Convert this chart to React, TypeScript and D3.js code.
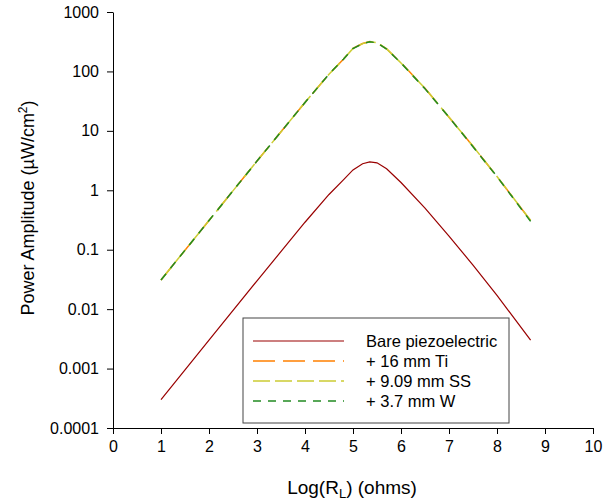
import React, { useRef, useEffect } from 'react';
import * as d3 from 'd3';

// log10 of load resistance
const logR = [1, 2, 3, 4, 4.5, 4.8, 5.0, 5.2, 5.35, 5.5, 5.7, 6.0, 6.5, 7, 7.5, 8, 8.7];

// power amplitude, uW/cm^2
const bare = [0.0003, 0.003, 0.03, 0.29, 0.85, 1.5, 2.2, 2.8, 3.0, 2.9, 2.3, 1.35, 0.5, 0.17, 0.055, 0.017, 0.003];
const ti16 = [0.031, 0.31, 3.1, 30, 90, 160, 245, 295, 318, 305, 240, 140, 52, 17, 5.5, 1.7, 0.31];
const ss909 = [0.031, 0.31, 3.1, 30, 90, 160, 244, 294, 316, 304, 239, 139, 52, 17, 5.5, 1.7, 0.31];
const w37 = [0.031, 0.31, 3.1, 30, 90, 160, 243, 293, 315, 303, 238, 139, 51, 17, 5.4, 1.7, 0.3];

const seriesNames = ['Bare piezoelectric', '+ 16 mm Ti', '+ 9.09 mm SS', '+ 3.7 mm W'];
const yTicks = [0.0001, 0.001, 0.01, 0.1, 1, 10, 100, 1000];
const yTickLabels = ['0.0001', '0.001', '0.01', '0.1', '1', '10', '100', '1000'];
const xTicks = [0, 1, 2, 3, 4, 5, 6, 7, 8, 9, 10];

const W = 603;
const H = 502;

export default function App() {
  const svgRef = useRef<SVGSVGElement>(null);

  useEffect(() => {
    const svg = d3.select(svgRef.current);
    svg.selectAll('*').remove();

    const left = 113, right = 593, top = 12, bottom = 428;

    const x = d3.scaleLinear().domain([0, 10]).range([left, right]);
    const y = d3.scaleLog().domain([0.0001, 1000]).range([bottom, top]);

    const font = 'Arial, "Liberation Sans", sans-serif';

    // axes
    const yAxis = d3.axisLeft(y)
      .tickValues(yTicks)
      .tickFormat((d, i) => yTickLabels[i])
      .tickSize(6)
      .tickSizeOuter(0)
      .tickPadding(8);
    const gy = svg.append('g').attr('transform', `translate(${left},0)`).call(yAxis);

    const xAxis = d3.axisBottom(x)
      .tickValues(xTicks)
      .tickFormat(d3.format('d'))
      .tickSize(6)
      .tickSizeOuter(0)
      .tickPadding(7);
    const gx = svg.append('g').attr('transform', `translate(0,${bottom})`).call(xAxis);

    [gx, gy].forEach(g => {
      g.selectAll('text').attr('font-family', font).attr('font-size', 16).attr('fill', '#000');
      g.selectAll('line').attr('stroke', '#000');
      g.select('.domain').attr('stroke', '#000');
    });

    // lines
    const series = [
      { vals: bare, color: '#990000', dash: null, width: 1.2 },
      { vals: ti16, color: '#ff8000', dash: '22,8', width: 1.5 },
      { vals: ss909, color: '#cccc33', dash: '17,5', width: 1.5 },
      { vals: w37, color: '#228b22', dash: '8,7', width: 1.5 },
    ];

    const line = d3.line<number>()
      .x((d, i) => x(logR[i]))
      .y(d => y(d));

    series.forEach(s => {
      svg.append('path')
        .attr('d', line(s.vals))
        .attr('fill', 'none')
        .attr('stroke', s.color)
        .attr('stroke-width', s.width)
        .attr('stroke-dasharray', s.dash);
    });

    // legend
    const lg = svg.append('g');
    lg.append('rect')
      .attr('x', 243).attr('y', 318)
      .attr('width', 266).attr('height', 105)
      .attr('fill', '#fff')
      .attr('stroke', '#444')
      .attr('stroke-width', 1);

    series.forEach((s, i) => {
      const cy = 341 + i * 20;
      lg.append('line')
        .attr('x1', 253).attr('x2', 344)
        .attr('y1', cy).attr('y2', cy)
        .attr('stroke', s.color)
        .attr('stroke-width', s.width)
        .attr('stroke-dasharray', s.dash);
      lg.append('text')
        .attr('x', 366).attr('y', cy + 6)
        .attr('font-family', font).attr('font-size', 16.5)
        .text(seriesNames[i]);
    });

    // axis titles
    const xt = svg.append('text')
      .attr('x', 352).attr('y', 494)
      .attr('text-anchor', 'middle')
      .attr('font-family', font).attr('font-size', 19);
    xt.append('tspan').text('Log(R');
    xt.append('tspan').attr('font-size', 13).attr('dy', 4).text('L');
    xt.append('tspan').attr('dy', -4).text(') (ohms)');

    const yt = svg.append('text')
      .attr('transform', `translate(34,208) rotate(-90)`)
      .attr('text-anchor', 'middle')
      .attr('font-family', font).attr('font-size', 18);
    yt.append('tspan').text('Power Amplitude (\u00b5W/cm');
    yt.append('tspan').attr('font-size', 12).attr('dy', -7).text('2');
    yt.append('tspan').attr('dy', 7).text(')');
  }, []);

  return (
    <svg
      ref={svgRef}
      width={W}
      height={H}
      style={{ position: 'absolute', left: 0, top: 0, background: '#fff' }}
    />
  );
}
